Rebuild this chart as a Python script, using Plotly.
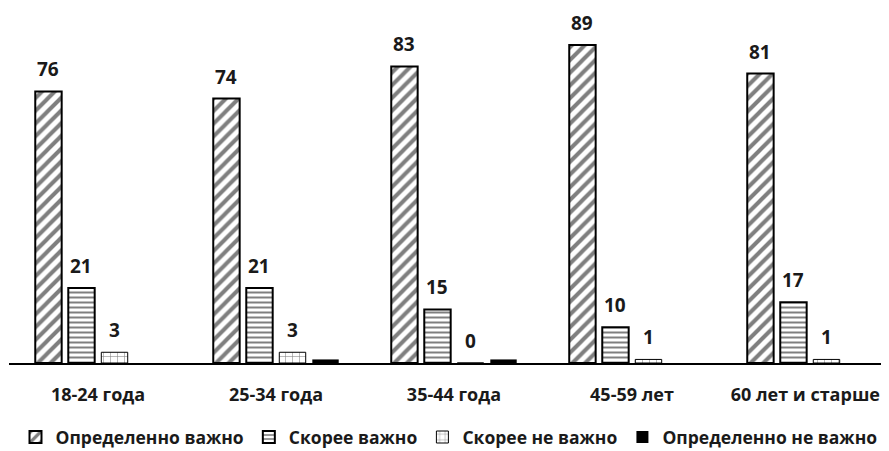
import plotly.graph_objects as go

categories = ["18-24 года", "25-34 года", "35-44 года", "45-59 лет", "60 лет и старше"]
series_names = ["Определенно важно", "Скорее важно", "Скорее не важно", "Определенно не важно"]
v_def_important = [76, 74, 83, 89, 81]
v_rather_important = [21, 21, 15, 10, 17]
v_rather_not = [3, 3, 0, 1, 1]
v_def_not = [0, 1, 1, 0, 0]

FONT = "Open Sans"
TXT = "#1a1a1a"

# layout geometry (page body has an 8px margin, figure sized to the visible area)
W, H = 881, 443
ML, MR, MT, MB = 1, 0, 2, 88
XRANGE = [-0.5, 4.444]
BARGAP, GROUPGAP = 0.258, 0.2

styles = [
    dict(pattern=dict(shape="/", fgcolor="black", bgcolor="white", size=9, solidity=0.45), lw=2, show=True),
    dict(pattern=dict(shape="-", fgcolor="black", bgcolor="white", size=5, solidity=0.4), lw=2, show=True),
    dict(pattern=dict(shape="+", fgcolor="black", bgcolor="white", size=7, solidity=0.15), lw=1, show=True),
    dict(pattern=None, lw=0, show=False),
]
values = [v_def_important, v_rather_important, v_rather_not, v_def_not]

fig = go.Figure()
for name, vals, st in zip(series_names, values, styles):
    marker = dict(color="white" if st["pattern"] else "black", line=dict(color="black", width=st["lw"]))
    if st["pattern"]:
        marker["pattern"] = st["pattern"]
    fig.add_trace(go.Bar(name=name, x=categories, y=vals, marker=marker, cliponaxis=False))

# value labels above bars
px_per_cat = (W - ML - MR) / (XRANGE[1] - XRANGE[0])
slot = px_per_cat * (1 - BARGAP) / len(values)
for i, (vals, st) in enumerate(zip(values, styles)):
    if not st["show"]:
        continue
    for c, v in zip(categories, vals):
        fig.add_annotation(x=c, y=v, text=str(v), showarrow=False,
                           xshift=(i - (len(values) - 1) / 2) * slot, yshift=22,
                           font=dict(family=FONT, size=19, color=TXT, weight="bold"))

# last tick label nudged left (as in the reference) with trailing non-breaking spaces
ticktext = categories[:-1] + [categories[-1] + "\u00a0\u00a0"]

fig.update_layout(
    width=W, height=H,
    margin=dict(l=ML, r=MR, t=MT, b=MB, autoexpand=False),
    paper_bgcolor="white", plot_bgcolor="white",
    barmode="group", bargap=BARGAP, bargroupgap=GROUPGAP,
    showlegend=True,
    legend=dict(orientation="h", x=0.5, xanchor="center", y=-0.21, yanchor="middle",
                font=dict(family=FONT, size=17.5, color=TXT, weight="bold"),
                itemwidth=30, tracegroupgap=0),
    xaxis=dict(range=XRANGE, showline=True, linecolor="black", linewidth=2,
               ticks="", showgrid=False, ticklabelstandoff=14,
               tickvals=categories, ticktext=ticktext,
               tickfont=dict(family=FONT, size=18, color=TXT, weight="bold")),
    yaxis=dict(range=[0, 98.8], visible=False, showgrid=False),
)

fig.write_html("out.html")
